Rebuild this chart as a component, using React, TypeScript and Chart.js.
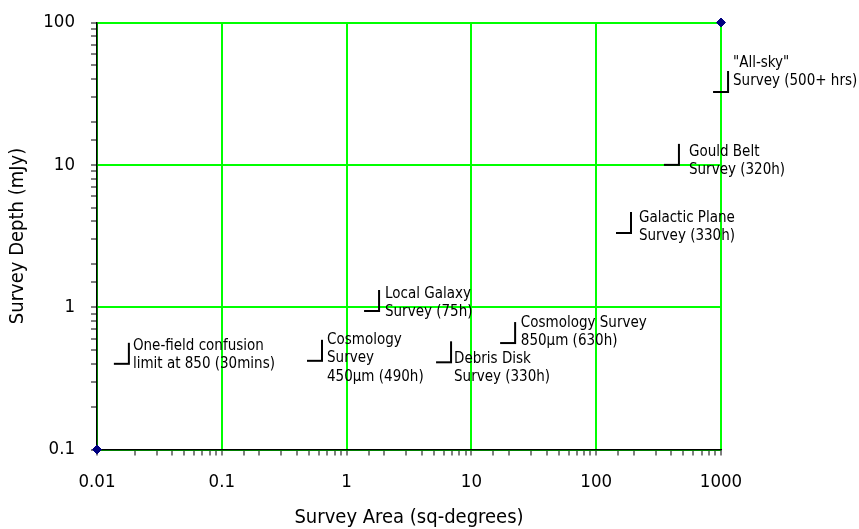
import React, { useEffect, useRef } from 'react';
import { Chart, registerables } from 'chart.js';

Chart.register(...registerables);

const FONT = '"DejaVu Sans Condensed", "DejaVu Sans", sans-serif';

// Axis ranges and labelled decades
const xTickLabels = ['0.01', '0.1', '1', '10', '100', '1000'];
const yTickLabels = ['0.1', '1', '10', '100'];

// Corner points (blue diamonds)
const cornerArea = [0.01, 1000];
const cornerDepth = [0.1, 100];

// Survey annotations
const surveyNames: string[][] = [
  ['"All-sky"', 'Survey (500+ hrs)'],
  ['Gould Belt', 'Survey (320h)'],
  ['Galactic Plane', 'Survey (330h)'],
  ['Local Galaxy', 'Survey (75h)'],
  ['One-field confusion', 'limit at 850 (30mins)'],
  ['Cosmology', 'Survey', '450µm (490h)'],
  ['Debris Disk', 'Survey (330h)'],
  ['Cosmology Survey', '850µm (630h)'],
];
const markerArea = [1138, 460, 190, 1.82, 0.018, 0.635, 6.87, 22.4];
const markerDepth = [32.5, 10, 3.32, 0.94, 0.4, 0.42, 0.41, 0.56];
const textArea = [1248, 554, 220, 2.03, 0.0194, 0.697, 7.26, 24.9];
const textDepth = [52, 12.3, 4.24, 1.24, 0.533, 0.588, 0.433, 0.775];

function isDecade(v: number): boolean {
  const l = Math.log10(v);
  return Math.abs(l - Math.round(l)) < 1e-6;
}

function labelFor(v: number, list: string[]): string {
  if (!isDecade(v)) return '';
  const s = list.find((t) => Math.abs(parseFloat(t) - v) < 1e-9 * Math.max(1, v));
  return s ?? '';
}

function makeMarker(): HTMLCanvasElement {
  const c = document.createElement('canvas');
  c.width = 36;
  c.height = 48;
  const g = c.getContext('2d')!;
  g.strokeStyle = '#000';
  g.lineWidth = 2;
  g.beginPath();
  g.moveTo(3, 24);
  g.lineTo(19, 24);
  g.moveTo(18, 24);
  g.lineTo(18, 3);
  g.stroke();
  return c;
}

const textPlugin = {
  id: 'surveyText',
  afterDatasetsDraw(chart: any) {
    const { ctx, scales } = chart;
    ctx.save();
    ctx.fillStyle = '#000';
    ctx.font = `15px ${FONT}`;
    ctx.textAlign = 'left';
    ctx.textBaseline = 'middle';
    surveyNames.forEach((lines, i) => {
      const px = scales.x.getPixelForValue(textArea[i]);
      const py = scales.y.getPixelForValue(textDepth[i]);
      lines.forEach((t, j) => ctx.fillText(t, px, py + j * 18.5));
    });
    ctx.restore();
  },
};

export default function App() {
  const ref = useRef<HTMLCanvasElement>(null);
  useEffect(() => {
    document.body.style.margin = '0';
    const marker = makeMarker();
    const chart = new Chart(ref.current!, {
      type: 'scatter',
      data: {
        datasets: [
          {
            data: cornerArea.map((x, i) => ({ x, y: cornerDepth[i] })),
            pointStyle: 'rectRot',
            pointRadius: 4.5,
            backgroundColor: '#000080',
            borderColor: '#000080',
            clip: false as any,
          },
          {
            data: markerArea.map((x, i) => ({ x, y: markerDepth[i] })),
            pointStyle: marker as any,
            pointRadius: 30,
            clip: false as any,
          },
        ],
      },
      options: {
        responsive: false,
        animation: false,
        events: [],
        layout: { autoPadding: false, padding: { left: 0, top: 22.5, right: 138, bottom: 0 } },
        plugins: { legend: { display: false }, tooltip: { enabled: false } },
        scales: {
          x: {
            type: 'logarithmic',
            position: 'bottom',
            min: 0.01,
            max: 1000,
            afterFit: (s: any) => {
              s.height = 79.5;
              s.paddingLeft = 0;
              s.paddingRight = 0;
            },
            border: { color: '#000', width: 1.5 },
            grid: {
              color: (c: any) => (c.tick && isDecade(c.tick.value) ? '#00ff00' : 'rgba(0,0,0,0)'),
              lineWidth: 2,
              tickColor: '#000',
              tickWidth: 1,
              tickLength: 6,
            },
            ticks: {
              autoSkip: false,
              maxRotation: 0,
              padding: 16,
              color: '#000',
              font: { family: FONT, size: 18.5 },
              callback: (v: any) => labelFor(Number(v), xTickLabels),
            },
            title: {
              display: true,
              text: 'Survey Area (sq-degrees)',
              color: '#000',
              font: { family: FONT, size: 20 },
              padding: { top: 0, bottom: -1 },
            },
          },
          y: {
            type: 'logarithmic',
            position: 'left',
            min: 0.1,
            max: 100,
            afterFit: (s: any) => {
              s.width = 97;
              s.paddingTop = 0;
              s.paddingBottom = 0;
            },
            border: { color: '#000', width: 1.5 },
            grid: {
              color: (c: any) => (c.tick && isDecade(c.tick.value) ? '#00ff00' : 'rgba(0,0,0,0)'),
              lineWidth: 2,
              tickColor: '#000',
              tickWidth: 1,
              tickLength: 6,
            },
            ticks: {
              autoSkip: false,
              padding: 16,
              color: '#000',
              font: { family: FONT, size: 18.5 },
              callback: (v: any) => labelFor(Number(v), yTickLabels),
            },
            title: {
              display: true,
              text: 'Survey Depth (mJy)',
              color: '#000',
              font: { family: FONT, size: 20 },
              padding: { top: 6, bottom: 0 },
            },
          },
        },
      },
      plugins: [textPlugin],
    });
    return () => chart.destroy();
  }, []);
  return <canvas ref={ref} width={859} height={529} style={{ display: 'block' }} />;
}
